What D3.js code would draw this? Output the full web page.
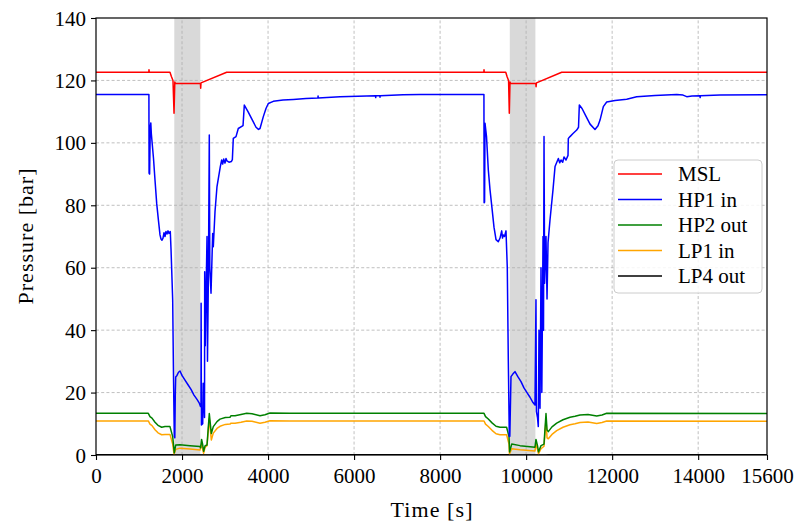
<!DOCTYPE html>
<html>
<head>
<meta charset="utf-8">
<script src="https://cdn.jsdelivr.net/npm/d3@7/dist/d3.min.js"></script>
<style>
  html, body { margin: 0; padding: 0; background: #fff; }
  svg { display: block; font-family: "Liberation Serif", "Times New Roman", serif; }
</style>
</head>
<body>
<svg id="chart" width="797" height="523"></svg>
<script>
// Pressure traces, [time s, pressure bar]
const msl = [
  [0,122.6],[1228,122.6],[1232,123.4],[1238,122.6],[1720,122.6],[1755,121.2],[1790,120],
  [1814,109.5],[1832,119.5],[1848,119],[2428,119],[2434,117.5],[2441,119.2],[3038,122.6],
  [9017,122.6],[9021,123.4],[9026,122.6],[9526,122.6],[9558,121.2],[9592,120],[9609,109.5],
  [9625,119.5],[9640,119],[10225,119],[10231,118],[10240,119.2],[10827,122.6],[15600,122.6]
];

const hp1In = [
  [0,115.5],[1230,115.5],[1234,90.3],[1246,90],[1262,105],[1274,106.4],[1286,103],
  [1337,95],[1372,88],[1411,80.6],[1453,75],[1488,70.5],[1511,69.2],[1534,68.8],[1558,69.5],
  [1581,71.2],[1604,70],[1627,71.6],[1651,70.8],[1674,71.8],[1697,71],[1727,71.6],[1744,66],
  [1783,49.6],[1802,25],[1820,6],[1832,5.5],[1844,20],[1853,25],[1883,25.5],[1918,26.5],
  [1953,26.9],[1999,25.5],[2069,24],[2139,22.5],[2209,21],[2278,19.2],[2348,17.8],[2402,16.6],
  [2430,15.5],[2441,15.5],[2444,48.6],[2451,9.6],[2481,10],[2492,23],[2504,20],[2523,12],
  [2527,58.7],[2541,35],[2557,50],[2581,70],[2592,30],[2615,60],[2634,102.5],[2646,60],
  [2674,51.8],[2713,71],[2727,66.7],[2767,78],[2813,86],[2890,92.4],[2922,94.5],[2945,93.2],
  [2969,94.8],[2999,93.5],[3023,95],[3046,94.2],[3092,93.8],[3146,94],[3170,94.6],[3192,101.4],
  [3255,102],[3308,104.6],[3418,105.5],[3448,112.1],[3534,110],[3627,107.5],[3720,105],
  [3778,104.3],[3813,104.6],[3890,108.4],[3952,111],[4006,112.6],[4122,113.3],[4348,113.7],
  [4587,113.9],[4882,114.2],[5160,114.4],[5163,115.0],[5166,114.4],[5673,114.8],[6500,115.1],
  [6503,114.5],[6506,115.1],[6600,115.1],[6603,114.6],[6606,115.1],[7137,115.4],[7533,115.5],
  [9019,115.5],[9023,80.8],[9034,81],[9044,106.3],[9079,102],[9121,91.3],[9160,85],[9207,79],
  [9253,73],[9300,69],[9353,68.3],[9393,69.5],[9432,71.8],[9451,69.5],[9469,70.5],[9497,70],
  [9532,71.8],[9562,60],[9586,30],[9609,5.9],[9621,6],[9648,25.1],[9695,26],[9741,26.7],
  [9811,25],[9881,23.5],[9950,21.5],[10020,20],[10090,18.5],[10160,16.8],[10206,16],
  [10229,49.7],[10239,14],[10264,12],[10283,9.1],[10299,40],[10323,15],[10346,60],[10365,20],
  [10393,70],[10404,40],[10416,102],[10430,55],[10462,70],[10486,50],[10509,68],[10555,75.3],
  [10625,85],[10672,92.4],[10749,95],[10780,93.6],[10811,94.5],[10850,93.8],[10881,95.5],
  [10927,94.5],[10974,96],[10981,101.4],[11020,102],[11090,103],[11176,104.1],[11218,105],
  [11237,112.1],[11300,111],[11393,108.5],[11486,106],[11601,104.3],[11671,105.5],[11718,107.3],
  [11795,111.6],[11873,113.1],[12066,113.6],[12338,114],[12571,114.8],[12996,115.2],
  [13501,115.5],[13648,115.3],[13734,114.8],[13857,115],[14043,115.1],[14046,114.5],
  [14049,115.1],[14508,115.3],[15600,115.4]
];

const hp2Out = [
  [0,13.35],[1216,13.35],[1255,12.3],[1302,11.8],[1372,10.5],[1441,9.5],[1527,8.9],[1604,9.1],
  [1720,9.1],[1783,5.9],[1820,0.7],[1853,3.2],[1953,3.3],[2185,3.0],[2418,2.7],[2432,2.3],
  [2455,5],[2478,3.5],[2502,1.2],[2537,3],[2581,3.2],[2634,13.3],[2681,6.9],[2727,9.1],
  [2813,10.7],[2883,11.5],[3006,12],[3115,12.1],[3140,12.6],[3232,12.6],[3371,13.0],
  [3504,13.35],[3627,13.2],[3813,12.6],[3929,12.9],[4045,13.45],[4510,13.35],
  [9021,13.35],[9056,12.3],[9114,11.6],[9207,10.3],[9300,9.2],[9393,8.9],[9546,8.9],[9602,5.9],
  [9616,1],[9665,3.5],[9858,3.0],[10206,2.5],[10229,5],[10264,3],[10288,1],[10346,3],
  [10416,3.5],[10462,13.3],[10486,8],[10516,7.5],[10601,9.0],[10711,10.2],[10857,11.3],
  [11020,12.1],[11137,12.4],[11253,12.8],[11439,13.0],[11641,12.5],[11764,12.8],[11873,13.35],
  [15600,13.3]
];

const lp1In = [
  [0,10.9],[1216,10.9],[1255,9.9],[1302,9.4],[1372,8.1],[1441,7.1],[1527,6.5],[1604,6.6],
  [1720,6.6],[1783,3.5],[1814,0.3],[1853,1.8],[1953,2.2],[2185,1.9],[2418,1.6],[2455,3.5],
  [2478,2],[2502,0.5],[2537,2.5],[2581,3],[2634,11.7],[2681,4.8],[2727,7],[2813,8.5],
  [2883,9.2],[3006,9.8],[3115,9.9],[3140,10.2],[3232,10.2],[3371,10.5],[3504,10.9],
  [3627,10.8],[3813,10.2],[3929,10.5],[4045,11.0],[4510,10.9],
  [9021,10.9],[9056,9.9],[9114,9.2],[9207,7.9],[9300,6.8],[9393,6.5],[9546,6.5],[9602,3.5],
  [9612,0.3],[9665,2],[9858,1.7],[10206,1.3],[10229,3.5],[10264,1.8],[10288,0.4],[10346,2],
  [10416,2.8],[10462,11.5],[10486,5.5],[10516,5.2],[10601,6.6],[10711,7.8],[10857,8.9],
  [11020,9.7],[11137,10.0],[11253,10.4],[11439,10.6],[11641,10.1],[11764,10.4],[11873,10.9],
  [15600,10.85]
];

const lp4Out = [
  [0,0.1],[1800,0.1],[1820,0.0],[2640,0.0],[2700,0.1],[9600,0.1],[9620,0.0],[10460,0.0],
  [10520,0.1],[15600,0.1]
];

// Shaded intervals [start s, end s]
const spans = [[1820, 2425], [9620, 10215]];

const xTicks = [0, 2000, 4000, 6000, 8000, 10000, 12000, 14000, 15600];
const yTicks = [0, 20, 40, 60, 80, 100, 120, 140];

const seriesNames = ["MSL", "HP1 in", "HP2 out", "LP1 in", "LP4 out"];
const seriesColors = ["#ff0000", "#0000ff", "#008000", "#ffa500", "#000000"];
const seriesData = [msl, hp1In, hp2Out, lp1In, lp4Out];

const svg = d3.select("#chart");
const margin = { left: 96, right: 30, top: 18, bottom: 68 };
const W = 797, H = 523;
const x0 = margin.left, x1 = W - margin.right;
const y0 = H - margin.bottom, y1 = margin.top;

const x = d3.scaleLinear().domain([0, 15600]).range([x0, x1]);
const y = d3.scaleLinear().domain([0, 140]).range([y0, y1]);

svg.append("defs").append("clipPath").attr("id", "plot-clip")
  .append("rect").attr("x", x0).attr("y", y1).attr("width", x1 - x0).attr("height", y0 - y1);

// Shaded intervals
svg.append("g").selectAll("rect").data(spans).join("rect")
  .attr("x", d => x(d[0])).attr("y", y1)
  .attr("width", d => x(d[1]) - x(d[0])).attr("height", y0 - y1)
  .attr("fill", "#808080").attr("fill-opacity", 0.3);

// Grid
const grid = svg.append("g").attr("stroke", "#b0b0b0").attr("stroke-width", 0.8)
  .attr("stroke-dasharray", "3,2.2");
grid.selectAll(".gx").data(xTicks.filter(t => t > 0 && t < 15600)).join("line")
  .attr("x1", d => x(d)).attr("x2", d => x(d)).attr("y1", y0).attr("y2", y1);
grid.selectAll(".gy").data(yTicks.filter(t => t > 0 && t < 140)).join("line")
  .attr("y1", d => y(d)).attr("y2", d => y(d)).attr("x1", x0).attr("x2", x1);

// Lines
const line = d3.line().x(d => x(d[0])).y(d => y(d[1]));
const lines = svg.append("g").attr("clip-path", "url(#plot-clip)");
[4, 3, 2, 1, 0].forEach(i => {
  lines.append("path").datum(seriesData[i])
    .attr("d", line).attr("fill", "none")
    .attr("stroke", seriesColors[i]).attr("stroke-width", 1.5)
    .attr("stroke-linejoin", "round");
});

// Axes
const xAxis = d3.axisBottom(x).tickValues(xTicks).tickFormat(d3.format("d"))
  .tickSizeOuter(0).tickSizeInner(5).tickPadding(5);
const yAxis = d3.axisLeft(y).tickValues(yTicks).tickFormat(d3.format("d"))
  .tickSizeOuter(0).tickSizeInner(5).tickPadding(5);

const gx = svg.append("g").attr("transform", `translate(0,${y0})`).call(xAxis);
const gy = svg.append("g").attr("transform", `translate(${x0},0)`).call(yAxis);
[gx, gy].forEach(g => {
  g.select(".domain").remove();
  g.selectAll(".tick line").attr("stroke", "#000").attr("stroke-width", 1.1);
  g.selectAll(".tick text").attr("fill", "#000")
    .style("font-family", '"Liberation Serif", serif').style("font-size", "21px");
});
gx.selectAll(".tick text").attr("dy", "0.85em");
gy.selectAll(".tick text").attr("dy", "0.34em");

// Frame
svg.append("rect").attr("x", x0).attr("y", y1).attr("width", x1 - x0).attr("height", y0 - y1)
  .attr("fill", "none").attr("stroke", "#000").attr("stroke-width", 1.2);

// Axis titles
svg.append("text").attr("x", (x0 + x1) / 2).attr("y", 517).attr("text-anchor", "middle")
  .style("font-size", "22px").attr("textLength", 82).text("Time [s]");
svg.append("text").attr("transform", `translate(33,${(y0 + y1) / 2}) rotate(-90)`)
  .attr("text-anchor", "middle").style("font-size", "22px").attr("textLength", 136)
  .text("Pressure [bar]");

// Legend
const lg = svg.append("g");
lg.append("rect").attr("x", 614).attr("y", 160).attr("width", 148).attr("height", 133)
  .attr("rx", 4).attr("fill", "#fff").attr("fill-opacity", 0.85)
  .attr("stroke", "#cccccc").attr("stroke-width", 1);
seriesNames.forEach((name, i) => {
  const yy = 174 + i * 25.5;
  lg.append("line").attr("x1", 618).attr("x2", 662).attr("y1", yy).attr("y2", yy)
    .attr("stroke", seriesColors[i]).attr("stroke-width", 1.5);
  lg.append("text").attr("x", 678).attr("y", yy).attr("dy", "0.35em")
    .style("font-size", "21px").text(name);
});
</script>
</body>
</html>
